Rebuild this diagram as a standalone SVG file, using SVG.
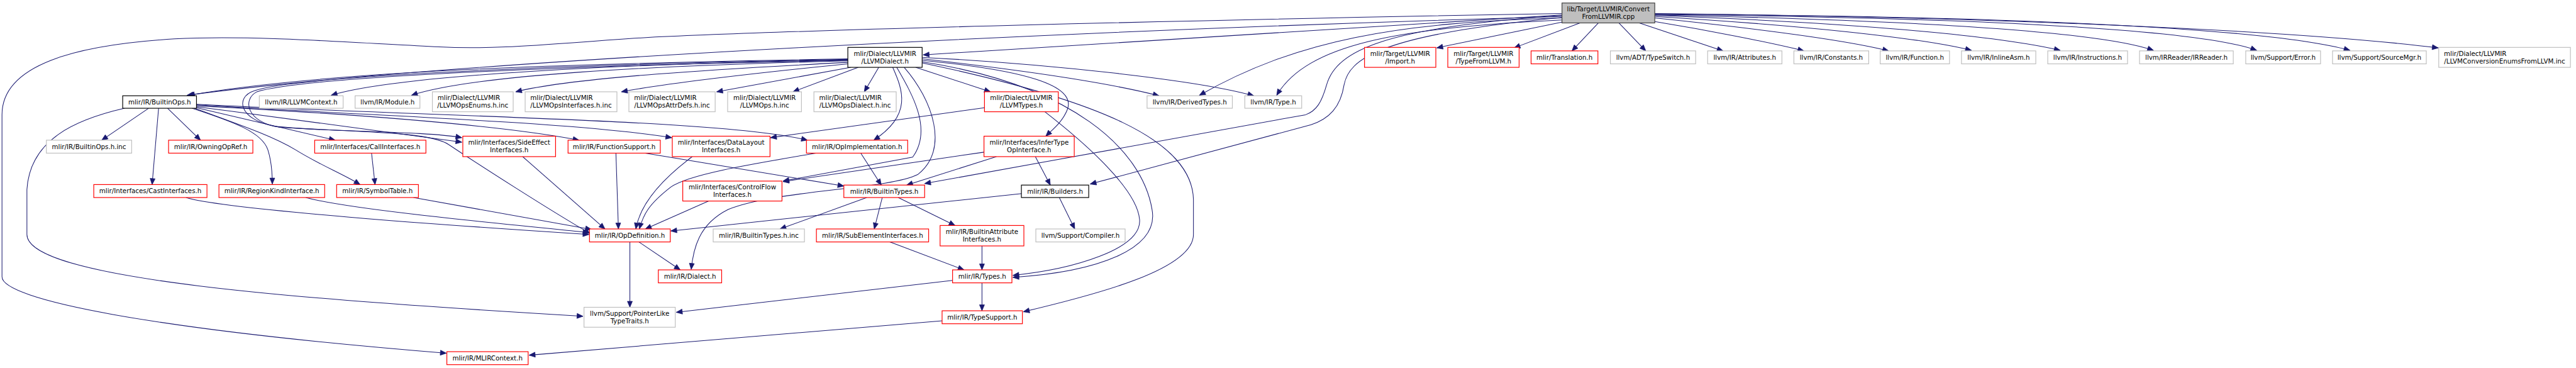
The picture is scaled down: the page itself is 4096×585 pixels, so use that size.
<svg xmlns="http://www.w3.org/2000/svg" width="4096" height="585" viewBox="0 0 4096 585">
<defs>
<style>
.nd rect{fill:#ffffff;stroke-width:1.5}
.red rect{stroke:#ff0000}
.gray rect{stroke:#bfbfbf}
.black rect{stroke:#000000}
.root rect{fill:#bfbfbf;stroke:#404040}
.nd text{font-family:"DejaVu Sans","Liberation Sans",sans-serif;font-size:13px;fill:#000000;text-anchor:middle}
.nd text.l{text-anchor:start}
#edges path{fill:none;stroke:#191970;stroke-width:1.3;marker-end:url(#ah)}
</style>
<marker id="ah" markerUnits="userSpaceOnUse" markerWidth="14" markerHeight="12" refX="12" refY="5" orient="auto" overflow="visible">
<path d="M0,0 L12,5 L0,10 z" fill="#191970" stroke="#191970" stroke-width="1"/>
</marker>
</defs>
<rect x="0" y="0" width="4096" height="585" fill="#ffffff"/>
<g transform="scale(0.793)">
<g id="edges">
<path d="M3132,30 L1851,110"/>
<path d="M3132,33 C2200,60 900,120 375,191"/>
<path d="M3132,27 C2400,40 1600,60 1300,75 C1100,88 1000,100 880,94 C700,85 500,70 350,78 C150,90 4,130 4,230 L4,555 C4,600 300,660 895,708"/>
<path d="M3133,44 L2881,96"/>
<path d="M3168,46 L3036,96"/>
<path d="M3205,46 L3152,102"/>
<path d="M3246,46 L3300,102"/>
<path d="M3287,46 L3455,102"/>
<path d="M3316,43 C3420,60 3550,85 3617,102"/>
<path d="M3318,36 C3500,55 3700,80 3787,102"/>
<path d="M3318,33 C3600,50 3850,75 3953,101"/>
<path d="M3318,31 C3700,45 4000,70 4131,101"/>
<path d="M3318,30 C3800,40 4200,60 4318,101"/>
<path d="M3318,29 C3900,35 4400,55 4525,101"/>
<path d="M3318,28 C4000,32 4550,55 4712,101"/>
<path d="M3318,27 C4000,35 4600,60 4889,96"/>
<path d="M3132,36 C2800,45 2600,80 2405,191"/>
<path d="M3132,40 C2800,55 2620,90 2560,191"/>
<path d="M3132,31 C2780,55 2680,100 2660,170 C2650,205 2640,222 2618,230 L1854,368"/>
<path d="M3132,35 C2760,70 2705,120 2695,170 C2688,215 2665,238 2629,250 L2186,369"/>
<path d="M1700,118 C1300,125 700,135 378,191"/>
<path d="M1700,120 C1250,128 800,150 664,191"/>
<path d="M1700,122 C1300,132 950,150 825,191"/>
<path d="M1700,125 C1450,138 1150,155 1034,184"/>
<path d="M1700,128 C1500,148 1350,165 1246,184"/>
<path d="M1706,135 L1437,184"/>
<path d="M1721,135 L1590,184"/>
<path d="M1762,135 L1733,184"/>
<path d="M1836,135 L1986,184"/>
<path d="M1849,118 C2000,135 2200,160 2324,192"/>
<path d="M1849,115 C2100,128 2400,160 2514,192"/>
<path d="M1790,135 C1810,180 1830,230 1752,281"/>
<path d="M1849,121 C2050,140 2160,170 2140,220 C2130,245 2110,260 2097,273"/>
<path d="M1798,135 C1830,190 1870,260 1830,315 L1570,363"/>
<path d="M1813,135 C1870,200 1905,300 1840,350 C1780,380 1560,380 1460,420 C1400,450 1390,500 1386,540"/>
<path d="M1849,124 C2150,170 2290,300 2310,420 C2325,500 2200,545 2031,556"/>
<path d="M1849,126 C2200,200 2390,280 2393,400 L2393,470 C2393,540 2200,590 2052,625"/>
<path d="M1700,119 C1200,128 600,150 510,182 C470,195 480,240 550,253 C650,265 850,262 926,276"/>
<path d="M1700,121 C1200,130 620,152 515,184 C485,200 495,245 560,255 C700,265 860,262 900,290 C960,330 1100,420 1183,468"/>
<path d="M298,217 L204,281"/>
<path d="M336,217 L402,281"/>
<path d="M318,217 L305,370"/>
<path d="M385,217 C470,245 525,265 537,300 C545,325 546,350 546,369"/>
<path d="M390,217 C480,250 545,272 592,300 C640,330 690,350 722,370"/>
<path d="M394,216 L672,281"/>
<path d="M394,214 C600,240 820,270 926,285"/>
<path d="M394,212 C700,228 1000,250 1161,281"/>
<path d="M394,210 C800,235 1150,245 1347,276"/>
<path d="M394,209 C900,235 1450,240 1619,281"/>
<path d="M250,217 C150,240 60,280 54,380 L54,470 C54,560 600,600 1169,634"/>
<path d="M745,307 L752,370"/>
<path d="M373,396 C450,420 900,452 1181,470"/>
<path d="M613,396 C700,420 1000,448 1181,466"/>
<path d="M829,396 L1186,460"/>
<path d="M1048,314 L1213,459"/>
<path d="M1235,307 L1240,459"/>
<path d="M1294,307 L1692,373"/>
<path d="M1388,314 C1340,350 1285,400 1275,459"/>
<path d="M1636,307 C1500,330 1380,350 1345,375 C1300,410 1290,430 1282,459"/>
<path d="M1726,307 L1767,371"/>
<path d="M1421,403 L1294,459"/>
<path d="M2049,388 L1345,463"/>
<path d="M1973,305 L1570,364"/>
<path d="M1998,314 L1818,371"/>
<path d="M2076,314 L2106,371"/>
<path d="M1974,216 L1545,276"/>
<path d="M2095,224 C2180,290 2280,380 2285,440 C2290,500 2150,540 2031,552"/>
<path d="M1738,396 L1564,459"/>
<path d="M1769,396 L1753,459"/>
<path d="M1801,396 L1915,452"/>
<path d="M2124,396 L2155,459"/>
<path d="M1263,485 L1263,616"/>
<path d="M1281,485 L1364,541"/>
<path d="M1784,485 L1933,541"/>
<path d="M1969,493 L1969,541"/>
<path d="M1910,562 L1356,626"/>
<path d="M1969,567 L1969,623"/>
<path d="M1889,643 L1061,712"/>
</g>
<g id="n_root" class="nd root"><rect x="3132" y="6" width="186" height="40"/><text x="3225" y="23">lib/Target/LLVMIR/Convert</text><text x="3225" y="38">FromLLVMIR.cpp</text></g>
<g id="n_LLVMDialect" class="nd black"><rect x="1700" y="95" width="149" height="40"/><text x="1774.5" y="112">mlir/Dialect/LLVMIR</text><text x="1774.5" y="127">/LLVMDialect.h</text></g>
<g id="n_Import" class="nd red"><rect x="2736" y="95" width="143" height="40"/><text x="2807.5" y="112">mlir/Target/LLVMIR</text><text x="2807.5" y="127">/Import.h</text></g>
<g id="n_TypeFromLLVM" class="nd red"><rect x="2903" y="95" width="143" height="40"/><text x="2974.5" y="112">mlir/Target/LLVMIR</text><text x="2974.5" y="127">/TypeFromLLVM.h</text></g>
<g id="n_Translation" class="nd red"><rect x="3070" y="102" width="134" height="26"/><text x="3137" y="119.5">mlir/Translation.h</text></g>
<g id="n_TypeSwitch" class="nd gray"><rect x="3229" y="102" width="171" height="26"/><text x="3314.5" y="119.5">llvm/ADT/TypeSwitch.h</text></g>
<g id="n_Attributes" class="nd gray"><rect x="3424" y="102" width="149" height="26"/><text x="3498.5" y="119.5">llvm/IR/Attributes.h</text></g>
<g id="n_Constants" class="nd gray"><rect x="3597" y="102" width="150" height="26"/><text x="3672" y="119.5">llvm/IR/Constants.h</text></g>
<g id="n_Function" class="nd gray"><rect x="3770" y="102" width="139" height="26"/><text x="3839.5" y="119.5">llvm/IR/Function.h</text></g>
<g id="n_InlineAsm" class="nd gray"><rect x="3933" y="102" width="149" height="26"/><text x="4007.5" y="119.5">llvm/IR/InlineAsm.h</text></g>
<g id="n_Instructions" class="nd gray"><rect x="4106" y="102" width="160" height="26"/><text x="4186" y="119.5">llvm/IR/Instructions.h</text></g>
<g id="n_IRReader" class="nd gray"><rect x="4290" y="102" width="188" height="26"/><text x="4384" y="119.5">llvm/IRReader/IRReader.h</text></g>
<g id="n_Error" class="nd gray"><rect x="4503" y="102" width="150" height="26"/><text x="4578" y="119.5">llvm/Support/Error.h</text></g>
<g id="n_SourceMgr" class="nd gray"><rect x="4677" y="102" width="188" height="26"/><text x="4771" y="119.5">llvm/Support/SourceMgr.h</text></g>
<g id="n_ConvEnums" class="nd gray"><rect x="4890" y="95" width="264" height="40"/><text class="l" x="4900.5" y="112">mlir/Dialect/LLVMIR</text><text x="5022" y="127">/LLVMConversionEnumsFromLLVM.inc</text></g>
<g id="n_BuiltinOps" class="nd black"><rect x="246" y="192" width="148" height="25"/><text x="320" y="209">mlir/IR/BuiltinOps.h</text></g>
<g id="n_LLVMContext" class="nd gray"><rect x="520" y="192" width="168" height="25"/><text x="604" y="209">llvm/IR/LLVMContext.h</text></g>
<g id="n_Module" class="nd gray"><rect x="712" y="192" width="130" height="25"/><text x="777" y="209">llvm/IR/Module.h</text></g>
<g id="n_OpsEnums" class="nd gray"><rect x="867" y="184" width="162" height="40"/><text class="l" x="877.5" y="201">mlir/Dialect/LLVMIR</text><text x="948" y="216">/LLVMOpsEnums.h.inc</text></g>
<g id="n_OpsInterfaces" class="nd gray"><rect x="1053" y="184" width="184" height="40"/><text class="l" x="1063.5" y="201">mlir/Dialect/LLVMIR</text><text x="1145" y="216">/LLVMOpsInterfaces.h.inc</text></g>
<g id="n_OpsAttrDefs" class="nd gray"><rect x="1261" y="184" width="173" height="40"/><text class="l" x="1271.5" y="201">mlir/Dialect/LLVMIR</text><text x="1347.5" y="216">/LLVMOpsAttrDefs.h.inc</text></g>
<g id="n_OpsInc" class="nd gray"><rect x="1459" y="184" width="148" height="40"/><text x="1533" y="201">mlir/Dialect/LLVMIR</text><text x="1533" y="216">/LLVMOps.h.inc</text></g>
<g id="n_OpsDialect" class="nd gray"><rect x="1632" y="184" width="165" height="40"/><text class="l" x="1642.5" y="201">mlir/Dialect/LLVMIR</text><text x="1714.5" y="216">/LLVMOpsDialect.h.inc</text></g>
<g id="n_LLVMTypes" class="nd red"><rect x="1974" y="184" width="148" height="40"/><text x="2048" y="201">mlir/Dialect/LLVMIR</text><text x="2048" y="216">/LLVMTypes.h</text></g>
<g id="n_DerivedTypes" class="nd gray"><rect x="2300" y="192" width="171" height="25"/><text x="2385.5" y="209">llvm/IR/DerivedTypes.h</text></g>
<g id="n_Type" class="nd gray"><rect x="2496" y="192" width="114" height="25"/><text x="2553" y="209">llvm/IR/Type.h</text></g>
<g id="n_BuiltinOpsInc" class="nd gray"><rect x="93" y="281" width="171" height="26"/><text x="178.5" y="298.5">mlir/IR/BuiltinOps.h.inc</text></g>
<g id="n_OwningOpRef" class="nd red"><rect x="338" y="281" width="169" height="26"/><text x="422.5" y="298.5">mlir/IR/OwningOpRef.h</text></g>
<g id="n_CallInterfaces" class="nd red"><rect x="631" y="281" width="223" height="26"/><text x="742.5" y="298.5">mlir/Interfaces/CallInterfaces.h</text></g>
<g id="n_SideEffect" class="nd red"><rect x="928" y="273" width="186" height="41"/><text x="1021" y="290.5">mlir/Interfaces/SideEffect</text><text x="1021" y="305.5">Interfaces.h</text></g>
<g id="n_FunctionSupport" class="nd red"><rect x="1139" y="281" width="185" height="26"/><text x="1231.5" y="298.5">mlir/IR/FunctionSupport.h</text></g>
<g id="n_DataLayout" class="nd red"><rect x="1348" y="273" width="196" height="41"/><text x="1446" y="290.5">mlir/Interfaces/DataLayout</text><text x="1446" y="305.5">Interfaces.h</text></g>
<g id="n_OpImplementation" class="nd red"><rect x="1617" y="281" width="203" height="26"/><text x="1718.5" y="298.5">mlir/IR/OpImplementation.h</text></g>
<g id="n_InferType" class="nd red"><rect x="1973" y="273" width="181" height="41"/><text x="2063.5" y="290.5">mlir/Interfaces/InferType</text><text x="2063.5" y="305.5">OpInterface.h</text></g>
<g id="n_CastInterfaces" class="nd red"><rect x="188" y="370" width="227" height="26"/><text x="301.5" y="387.5">mlir/Interfaces/CastInterfaces.h</text></g>
<g id="n_RegionKind" class="nd red"><rect x="439" y="370" width="212" height="26"/><text x="545" y="387.5">mlir/IR/RegionKindInterface.h</text></g>
<g id="n_SymbolTable" class="nd red"><rect x="675" y="370" width="164" height="26"/><text x="757" y="387.5">mlir/IR/SymbolTable.h</text></g>
<g id="n_ControlFlow" class="nd red"><rect x="1369" y="363" width="199" height="40"/><text x="1468.5" y="380">mlir/Interfaces/ControlFlow</text><text x="1468.5" y="395">Interfaces.h</text></g>
<g id="n_BuiltinTypes" class="nd red"><rect x="1692" y="371" width="162" height="25"/><text x="1773" y="388">mlir/IR/BuiltinTypes.h</text></g>
<g id="n_Builders" class="nd black"><rect x="2048" y="371" width="135" height="25"/><text x="2115.5" y="388">mlir/IR/Builders.h</text></g>
<g id="n_OpDefinition" class="nd red"><rect x="1182" y="459" width="162" height="26"/><text x="1263" y="476.5">mlir/IR/OpDefinition.h</text></g>
<g id="n_BuiltinTypesInc" class="nd gray"><rect x="1430" y="459" width="183" height="26"/><text x="1521.5" y="476.5">mlir/IR/BuiltinTypes.h.inc</text></g>
<g id="n_SubElement" class="nd red"><rect x="1637" y="459" width="225" height="26"/><text x="1749.5" y="476.5">mlir/IR/SubElementInterfaces.h</text></g>
<g id="n_BuiltinAttrIfaces" class="nd red"><rect x="1885" y="452" width="168" height="41"/><text x="1969" y="469.5">mlir/IR/BuiltinAttribute</text><text x="1969" y="484.5">Interfaces.h</text></g>
<g id="n_Compiler" class="nd gray"><rect x="2077" y="459" width="179" height="26"/><text x="2166.5" y="476.5">llvm/Support/Compiler.h</text></g>
<g id="n_Dialect" class="nd red"><rect x="1320" y="541" width="127" height="26"/><text x="1383.5" y="558.5">mlir/IR/Dialect.h</text></g>
<g id="n_Types" class="nd red"><rect x="1910" y="541" width="119" height="26"/><text x="1969.5" y="558.5">mlir/IR/Types.h</text></g>
<g id="n_PointerLike" class="nd gray"><rect x="1171" y="616" width="183" height="40"/><text x="1262.5" y="633">llvm/Support/PointerLike</text><text x="1262.5" y="648">TypeTraits.h</text></g>
<g id="n_TypeSupport" class="nd red"><rect x="1889" y="623" width="161" height="26"/><text x="1969.5" y="640.5">mlir/IR/TypeSupport.h</text></g>
<g id="n_MLIRContext" class="nd red"><rect x="896" y="705" width="163" height="26"/><text x="977.5" y="722.5">mlir/IR/MLIRContext.h</text></g>
</g>
</svg>
